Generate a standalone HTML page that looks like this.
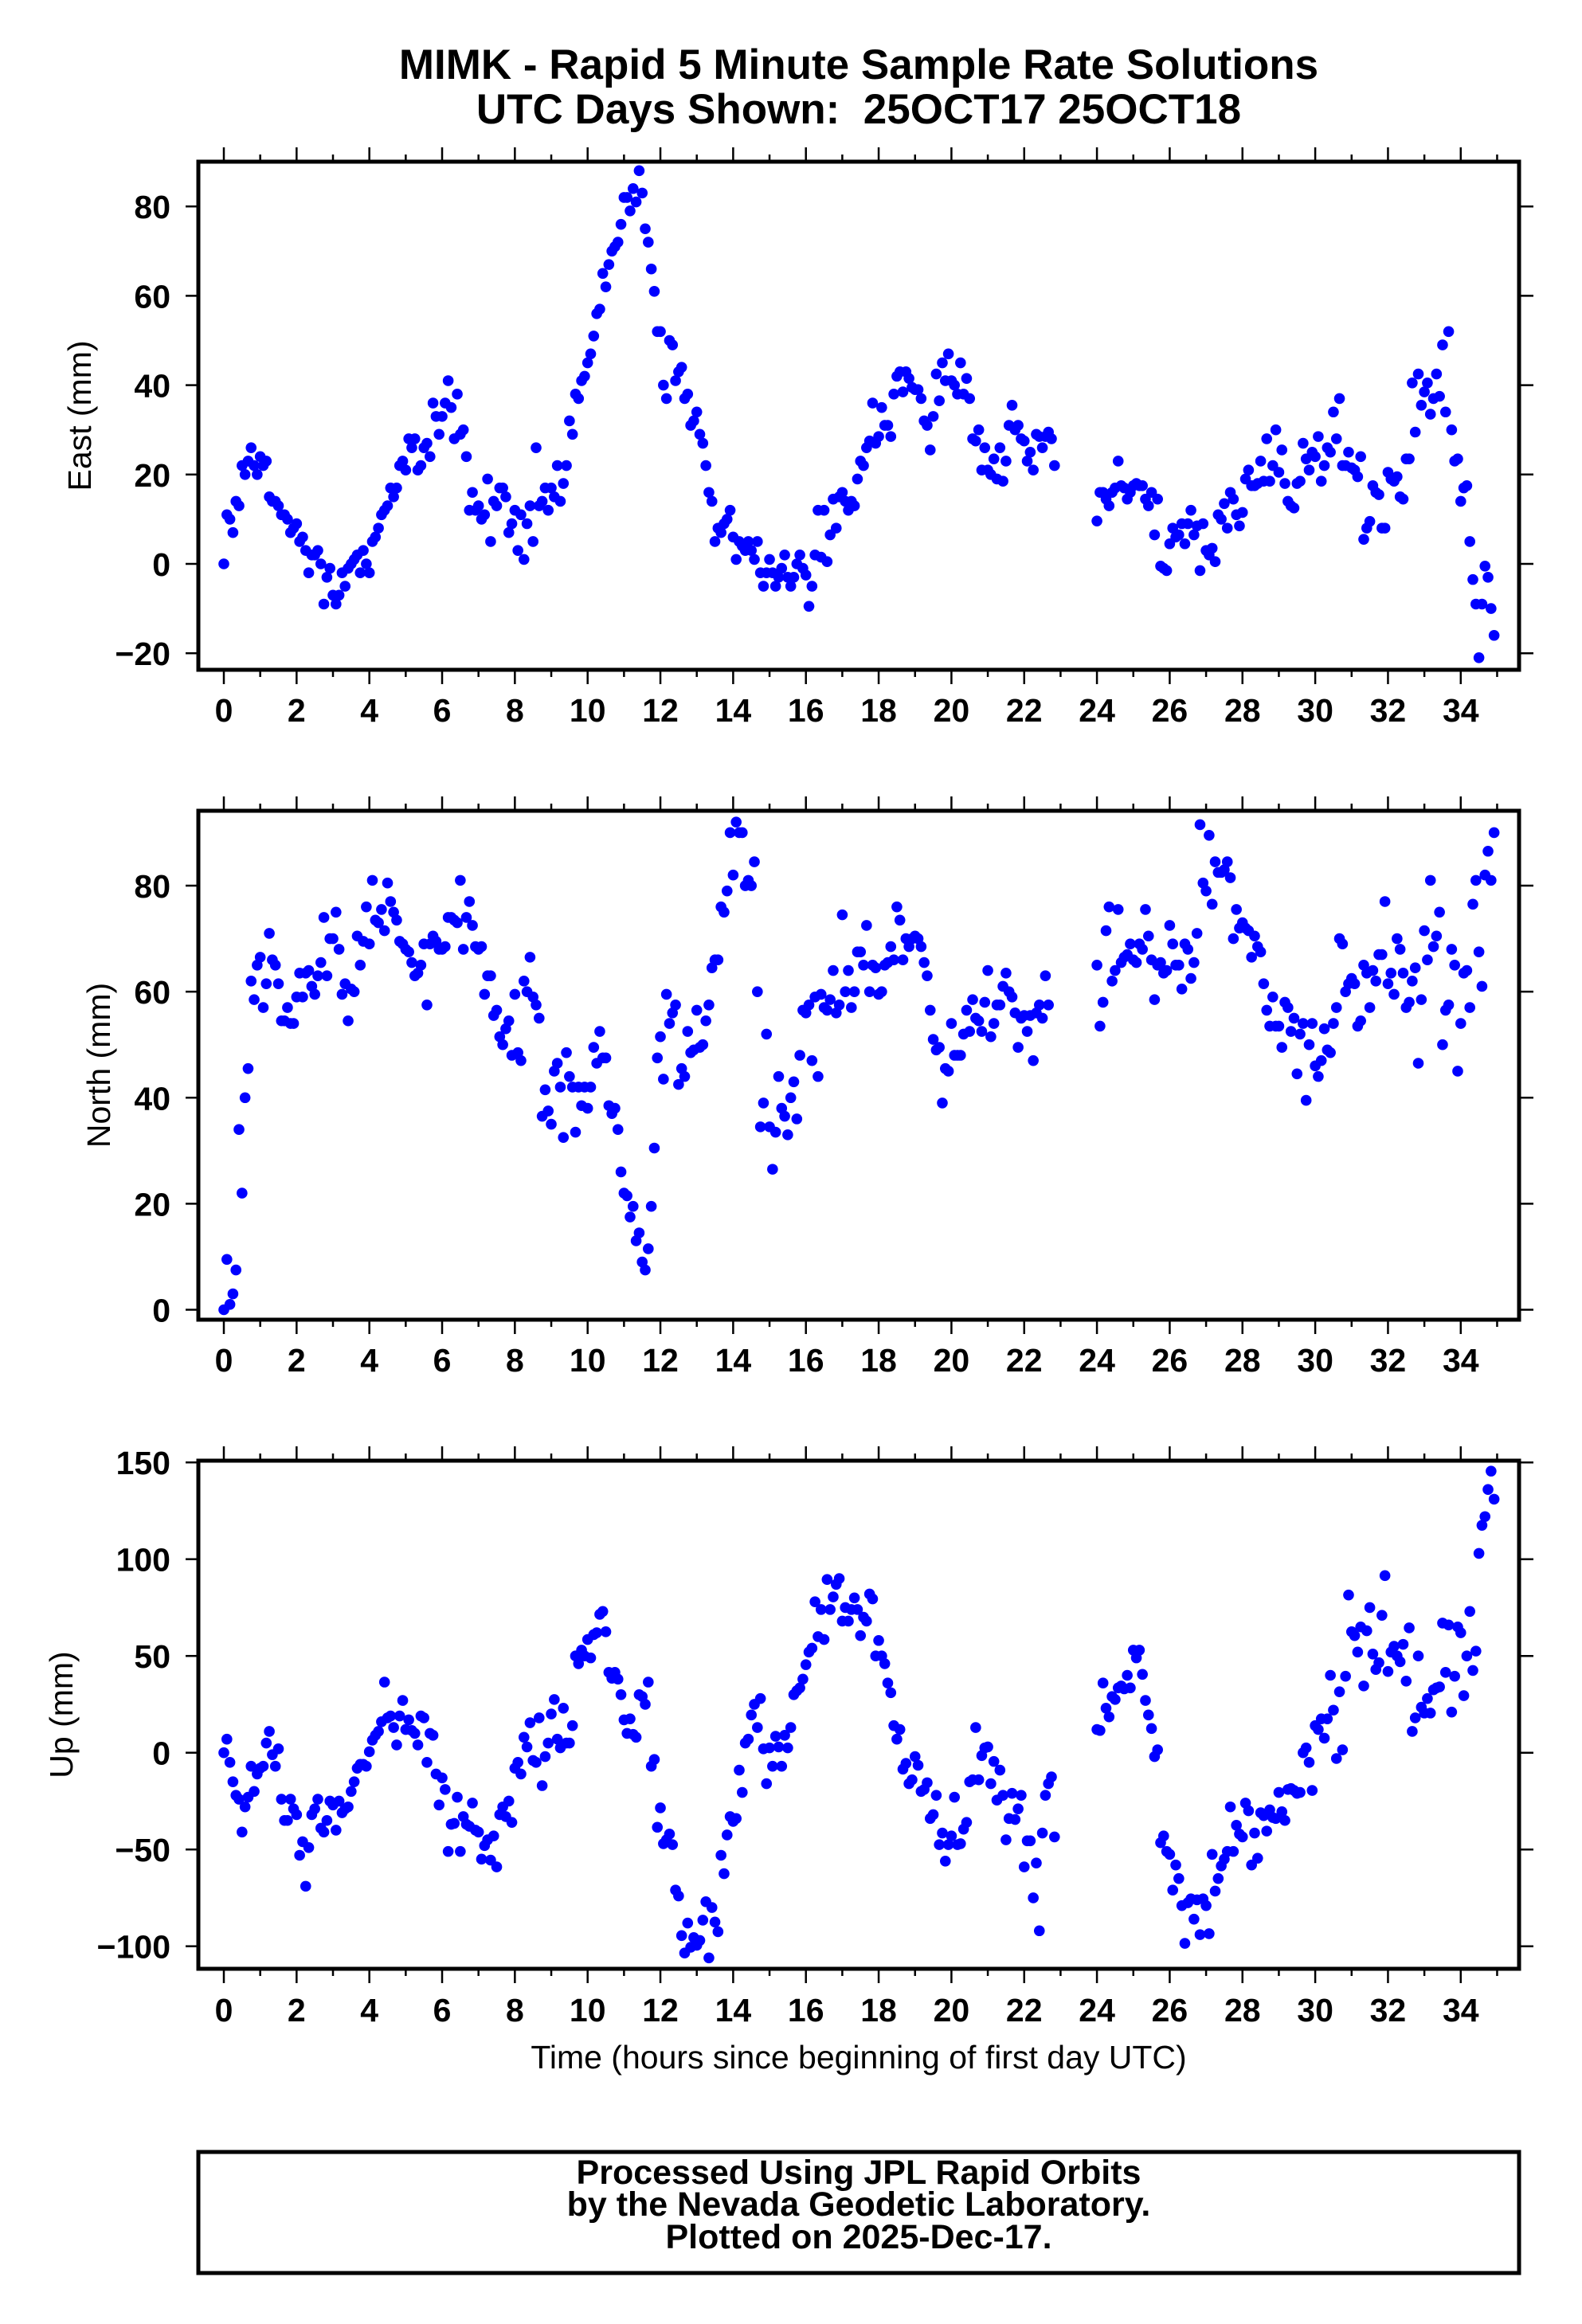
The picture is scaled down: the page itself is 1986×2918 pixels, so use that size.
<!DOCTYPE html>
<html><head><meta charset="utf-8"><style>
html,body{margin:0;padding:0;background:#fff;}
svg{display:block;font-family:"Liberation Sans",Arial,sans-serif;}
</style></head><body>
<svg id="chart" width="1986" height="2918" viewBox="0 0 1986 2918" xmlns="http://www.w3.org/2000/svg">
<rect x="0" y="0" width="1986" height="2918" fill="#fff"/>
<text x="1078" y="99" text-anchor="middle" font-size="53" font-weight="bold">MIMK - Rapid 5 Minute Sample Rate Solutions</text>
<text x="1078" y="155" text-anchor="middle" font-size="53" font-weight="bold">UTC Days Shown: &#160;25OCT17 25OCT18</text>
<g id="panels"></g>
<text x="1078" y="2597" text-anchor="middle" font-size="41">Time (hours since beginning of first day UTC)</text>
<rect x="249" y="2702" width="1658" height="152" fill="none" stroke="#000" stroke-width="5"/>
<text x="1078" y="2742" text-anchor="middle" font-size="43" font-weight="bold">Processed Using JPL Rapid Orbits</text>
<text x="1078" y="2782" text-anchor="middle" font-size="43" font-weight="bold">by the Nevada Geodetic Laboratory.</text>
<text x="1078" y="2823" text-anchor="middle" font-size="43" font-weight="bold">Plotted on 2025-Dec-17.</text>
</svg>
<script>
// ---- data (mm), 5-minute samples; segment A starts at hour 0, segment B at hour 24 ----
const segStartA = 0;
const segStartB = 24;
const eastA = [0,11,10,7,14,13,22,20,23,26,22,20,
24,22,23,15,14,14,13,11,11,10,7,8,
9,5,6,3,-2,2,2,3,0,-9,-3,-1,
-7,-9,-7,-2,-5,-1,0,1,2,-2,3,0,
-2,5,6,8,11,12,13,17,15,17,22,23,
21,28,26,28,21,22,26,27,24,36,33,29,
33,36,41,35,28,38,29,30,24,12,16,12,
13,10,11,19,5,14,13,17,17,15,7,9,
12,3,11,1,9,13,5,26,13,14,17,12,
17,15,22,14,18,22,32,29,38,37,41,42,
45,47,51,56,57,65,62,67,70,71,72,76,
82,82,79,84,81,88,83,75,72,66,61,52,
52,40,37,50,49,41,43,44,37,38,31,32,
34,29,27,22,16,14,5,8,7,9,10,12,
6,1,5,4,3,5,3,1,5,-2,-5,-2,
1,-2,-5,-3,-1,2,-3,-5,-3,0,
2,-1,-2.5,-9.5,-5,2,12,1.5,12,0.5,6.5,14.5,8,15,16,14,12,14,13,19,23,22,26,27.5,36,27,28.5,35,31,31,28.5,38,42,43,38.5,43,41.5,39.5,39,39,37,32,31,25.5,33,42.5,36.5,45,41,47,41,40,38,45,38,41.5,37,28,27.5,30,21,26,21,20,23.5,19,26,18.5,23,31,35.5,30,31,28,27.5,23,25,21,29,28.5,26,28.5,29.5,28,22];
const eastB = [9.6,16,16,14.5,13,16,17,23,17.5,17,14.5,16,17.5,18,17.5,17.5,14.5,13,16,6.5,14.5,-0.5,-1,-1.5,4.5,8,6,6.5,9,4.5,9,12,6.5,8.5,-1.5,9,3,2,3.5,0.5,11,10,13.5,8,16,14.5,11,8.5,11.5,19,21,17.5,17.5,18,23,18.5,28,18.5,22,30,20.5,25.5,18,14,13,12.5,18,18.5,27,23.5,21,25,24,28.5,18.5,22,26,25,34,28,37,22,22,25,21.5,21,19.5,24,5.5,8,9.5,17.5,16,15.5,8,8,20.5,19,18.5,19.5,15,14.5,23.5,23.5,40.5,29.5,42.5,35.5,38.5,40.5,33.5,37,42.5,37.5,49,34,52,30,23,23.5,14,17,17.5,5,-3.5,-9,-21,-9,-0.5,-3,-10,-16];
const northA = [0,9.5,1,3,7.5,34,22,40,45.5,62,58.5,65,66.5,57,61.5,71,66,65,61.5,54.5,54.5,57,54,54,59,63.5,59,63.5,64,61,59.5,63,65.5,74,63,70,70,75,68,59.5,61.5,54.5,60.5,60,70.5,65,69.5,76,69,81,73.5,73,75.5,71.5,80.5,77,75,73.5,69.5,69,68,67.5,65.5,63,63.5,65,69,57.5,69,70.5,69.5,68,68,68.5,74,74,73.5,73,81,68,74,77,72.5,68.5,68,68.5,59.5,63,63,55.5,56.5,51.5,50,53,54.5,48,59.5,48.5,47,62,60,66.5,59,57.5,55,36.5,41.5,37.5,35,45,46.5,42,32.5,48.5,44,42,33.5,42,38.5,42,38,42,49.5,46.5,52.5,47.5,47.5,38.5,37,38,34,26,22,21.5,17.5,19.5,13,14.5,9,7.5,11.5,19.5,30.5,47.5,51.5,43.5,59.5,54,56,57.5,42.5,45.5,44,52.5,48.5,49,56.5,49.5,50,54.5,57.5,64.5,66,66,76,75,79,90,82,92,90,90,80,81,80,84.5,60,34.5,39,52,34.5,26.5,33.5,44,38,36.5,33,
40,43,36,48,56.5,56,57.5,47,59,44,59.5,57,56.5,58.5,64,56,57.5,74.5,60,64,57,60,67.5,67.5,65,72.5,60,65,64.5,59.5,60,65,65.5,68.5,66,76,73.5,66,70,68.5,70,70.5,70,68.5,65.5,63,56.5,51,49,49.5,39,45.5,45,54,48,48,48,52,56.5,52.5,58.5,55,54.5,52.5,58,64,51.5,54,57.5,57.5,61,63.5,60,59,56,49.5,55,55.5,52.5,55.5,47,56,57.5,55,63,57.5];
const northB = [65,53.5,58,71.5,76,62,64,75.5,65.5,66.5,67,69,66,65.5,69,68,75.5,70.5,66,58.5,65,65.5,63.5,64,72.5,69,65,65,60.5,69,68,62.5,65.5,71,91.5,80.5,79,89.5,76.5,84.5,82.5,82.5,83,84.5,81.5,70,75.5,72,73,72,71.5,66.5,70.5,68.5,67.5,61.5,56.5,53.5,59,53.5,53.5,49.5,58,57,52.5,55,44.5,52,54,39.5,50,54,46,44,47,53,49,48.5,54,57,70,69,60,61.5,62.5,61.5,53.5,54.5,65,63.5,57,64,62,67,67,77,61.5,63.5,59.5,70,68,63.5,57,58,62,64.5,46.5,58.5,71.5,66,81,68.5,70.5,75,50,56.5,57.5,68,65,45,54,63.5,64,57,76.5,81,67.5,61,82,86.5,81,90];
const upA = [0,7,-5,-15,-22,-24,-41,-28,-23,-7,-20,-11,-8,-7,5,11,-1,-7,2,-24,-35,-35,-24,-29,-32,-53,-46,-69,-49,-32,-29,-24,-39,-41,-35,-25,-27,-40,-25,-31,-29,-28,-20,-15,-8,-6,-6,-7,0.5,6.5,9,11,16,36.5,18,19,13,4,19,27,12,17,11.5,10,4,19,18,-5,10,9,-11,-27,-13,-19,-51,-37,-36.5,-23,-51,-33,-37,-38,-26,-40,-41,-55,-48,-45,-55.5,-43,-59,-32,-28,-33,-25,-36,-8,-5,-11,8,3,15.5,-4,-5,18,-17,-2,5,20,27.5,7,2.5,23,5,5,14,50,46,53,50,58.5,49,61,62,71.5,73,62.5,41.5,38.5,41.5,38,30,17,10,17.5,9.5,8,30,29,25,36.5,-7,-3.5,-38.5,-28.5,-47,-45,-42,-47.5,-71,-74,-94.5,-103.5,-88,-100.5,-95.5,-99.5,-97,-86.5,-77,-106,-80,-87.5,-92.5,-53,-62.5,-42.5,-33,-35.5,-34,-9,-20.5,5,7,19.5,25,13,28,2,-16,2.5,-7,8.5,3,-7,9,2.5,13,30,32,33.5,38,45.5,52,54,78,60,74,58.5,89.5,74,80.5,87,90,68,75,68,74,80,74,60.5,70,68,82,79.5,50,58,50,46,
36,31,14,7,12,-8.5,-5.5,-16,-14,-2,-6.5,-20,-19,-15.5,-34,-32,-22,-47.5,-41.5,-56,-47.5,-43,-23,-47.5,-47,-39.5,-36,-15,-14,13,-14,-1.5,2.5,3,-16,-4.5,-24.5,-9,-22,-45,-34,-21,-34.5,-29,-22,-59,-45.5,-45.5,-75,-57,-92,-41.5,-22,-16,-12.5,-43.5];
const upB = [12,11.5,36,23,18.5,29,27.5,33.5,34.5,33,40,33.5,53,49,53,40.5,27,19.5,12.5,-2,1.5,-46.5,-43,-51,-52.5,-71,-58,-65,-79,-98.5,-77.5,-75.5,-86,-76,-94,-75.5,-79,-93.5,-52.5,-71.5,-65,-58.5,-55,-51,-28,-51,-37.5,-42,-43.5,-26,-30,-58,-41.5,-54.5,-31,-32.5,-40.5,-29.5,-33.5,-34,-20.5,-30.5,-35,-19,-18.5,-19.5,-21,-20.5,0,2.5,-5,-19.5,14,12,17.5,7.5,17.5,40,22,-3,31.5,1.5,39.5,81.5,62.5,60.5,52,65,34.5,63,75,51,43,46.5,71,91.5,42,52,55,50,47,56,37,64.5,11,18,50,23.5,20.5,28,20.5,32.5,33.5,34,67,41.5,66,21,39.5,65,62,29.5,50,73,42.5,52.5,103,117.5,122,136,145.5,131];
const xTickLabels = ["0","2","4","6","8","10","12","14","16","18","20","22","24","26","28","30","32","34"];
const eastTicks = [-20,0,20,40,60,80];
const northTicks = [0,20,40,60,80];
const upTicks = [-100,-50,0,50,100,150];

// ---- layout ----
const NS = "http://www.w3.org/2000/svg";
const L = 249, R = 1907;
const xScale = h => 281 + 45.67 * h;
const panels = [
  {key:"east", title:"East (mm)", segA:eastA, segB:eastB, ticks:eastTicks, top:203, bot:841, y0:708, k:5.61, tx:100, lblY:906},
  {key:"north", title:"North (mm)", segA:northA, segB:northB, ticks:northTicks, top:1018, bot:1657, y0:1644.5, k:6.656, tx:124, lblY:1722},
  {key:"up", title:"Up (mm)", segA:upA, segB:upB, ticks:upTicks, top:1834, bot:2472, y0:2200.7, k:2.43, tx:77, lblY:2538}
];
const root = document.getElementById("panels");
function mk(tag, attrs, parent){
  const e = document.createElementNS(NS, tag);
  for (const a in attrs) e.setAttribute(a, attrs[a]);
  parent.appendChild(e);
  return e;
}
panels.forEach(p => {
  const g = mk("g", {}, root);
  
  
  const yScale = v => p.y0 - p.k * v;
  for (let h = 0; h <= 35; h++) {
    const x = xScale(h), len = (h % 2 === 0) ? 18 : 9;
    const t1 = mk("line", {x1:x, x2:x, y1:p.top, y2:p.top - len, stroke:"#000", "stroke-width":2.5}, g);
    
    
    const t2 = mk("line", {x1:x, x2:x, y1:p.bot, y2:p.bot + len, stroke:"#000", "stroke-width":2.5}, g);
    
    
  }
  xTickLabels.forEach(s => {
    const t = mk("text", {x:xScale(+s), y:p.lblY, "text-anchor":"middle", "font-size":41, "font-weight":"bold"}, g);
    t.textContent = s;
    
    
  });
  p.ticks.forEach(v => {
    const y = yScale(v);
    const a = mk("line", {x1:L - 16, x2:L, y1:y, y2:y, stroke:"#000", "stroke-width":2.5}, g);
    
    
    const b = mk("line", {x1:R, x2:R + 18, y1:y, y2:y, stroke:"#000", "stroke-width":2.5}, g);
    
    
    const t = mk("text", {x:214, y:y + 15, "text-anchor":"end", "font-size":41, "font-weight":"bold"}, g);
    t.textContent = (v < 0 ? "\u2212" + (-v) : String(v));
    
    
  });
  const cy = (p.top + p.bot) / 2;
  const yt = mk("text", {x:p.tx, y:cy, "text-anchor":"middle", "font-size":41, transform:"rotate(-90 " + p.tx + " " + cy + ")", dy:"14"}, g);
  yt.textContent = p.title;
  
  
  const pts = mk("g", {fill:"#0000ff"}, g);
  
  
  [[p.segA, segStartA], [p.segB, segStartB]].forEach(([arr, start]) => {
    arr.forEach((v, i) => {
      const c = mk("circle", {cx:xScale(start + i / 12), cy:yScale(v), r:6.8}, pts);
      
      
    });
  });
  const fr = mk("rect", {x:L, y:p.top, width:R - L, height:p.bot - p.top, fill:"none", stroke:"#000", "stroke-width":5}, g);
  
  
});
</script>
</body></html>
